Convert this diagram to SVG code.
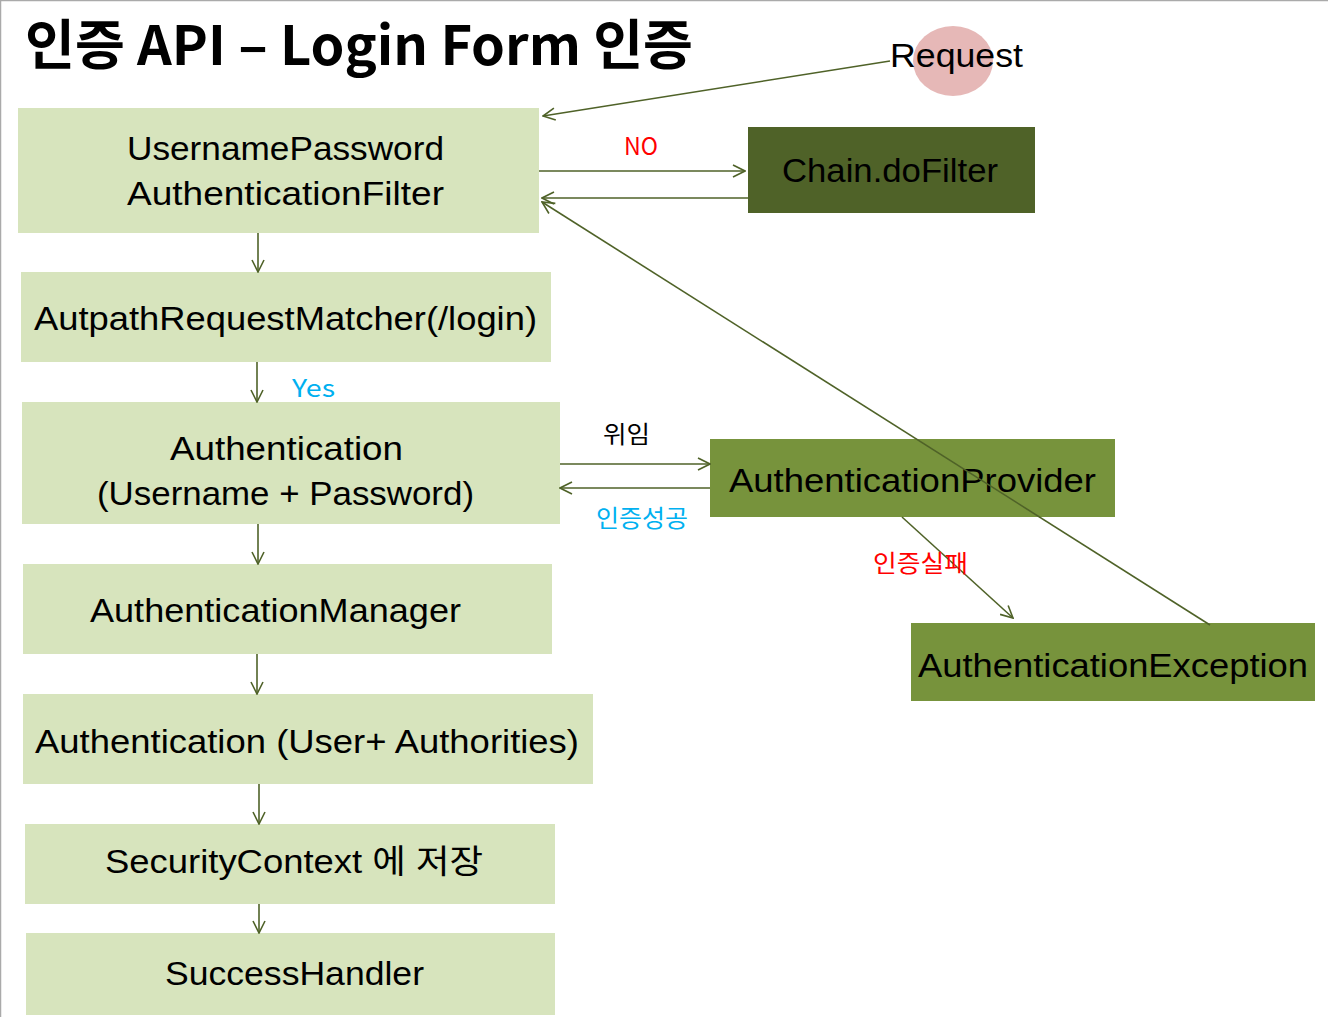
<svg xmlns="http://www.w3.org/2000/svg" width="1328" height="1017" viewBox="0 0 1328 1017">
<defs>
<style>
.t{font-family:"Liberation Sans","Noto Sans CJK KR",sans-serif;font-size:33px;fill:#000}
.s{font-family:"Noto Sans CJK KR","Liberation Sans",sans-serif;font-size:24px}
.light{fill:#d7e4bd}
.c{stroke:#4f6228;stroke-width:1.6;fill:none;marker-end:url(#a)}
</style>
<marker id="a" viewBox="0 0 14 14" refX="13" refY="7" markerWidth="14" markerHeight="14" markerUnits="userSpaceOnUse" orient="auto">
<path d="M1,1 L13,7 L1,13" fill="none" stroke="#4f6228" stroke-width="1.6"/>
</marker>
</defs>
<rect width="1328" height="1017" fill="#fff"/>
<line x1="0" y1="0.5" x2="1328" y2="0.5" stroke="#aaa" stroke-width="1.5"/>
<line x1="0.5" y1="0" x2="0.5" y2="1017" stroke="#aaa" stroke-width="1.5"/>
<text x="25" y="65" font-family="Noto Sans CJK KR, Liberation Sans, sans-serif" font-size="54" font-weight="bold" textLength="668" lengthAdjust="spacingAndGlyphs">인증 API – Login Form 인증</text>

<g id="request">
<ellipse cx="953" cy="61" rx="40" ry="35" fill="#e6b8b7"/>
<text class="t" x="890" y="67" textLength="133" lengthAdjust="spacingAndGlyphs">Request</text>
</g>
<g id="filter">
<rect class="light" x="18" y="108" width="521" height="125"/>
<text class="t" x="127" y="160" textLength="317" lengthAdjust="spacingAndGlyphs">UsernamePassword</text>
<text class="t" x="127" y="205" textLength="317" lengthAdjust="spacingAndGlyphs">AuthenticationFilter</text>
</g>
<g id="chain">
<rect x="748" y="127" width="287" height="86" fill="#4f6228"/>
<text class="t" x="782" y="182" textLength="216" lengthAdjust="spacingAndGlyphs">Chain.doFilter</text>
</g>
<g id="matcher">
<rect class="light" x="21" y="272" width="530" height="90"/>
<text class="t" x="34" y="330" textLength="503" lengthAdjust="spacingAndGlyphs">AutpathRequestMatcher(/login)</text>
</g>
<g id="auth1">
<rect class="light" x="22" y="402" width="538" height="122"/>
<text class="t" x="170" y="460" textLength="233" lengthAdjust="spacingAndGlyphs">Authentication</text>
<text class="t" x="97" y="505" textLength="377" lengthAdjust="spacingAndGlyphs">(Username + Password)</text>
</g>
<g id="provider">
<rect x="710" y="439" width="405" height="78" fill="#77933c"/>
<text class="t" x="729" y="492" textLength="367" lengthAdjust="spacingAndGlyphs">AuthenticationProvider</text>
</g>
<g id="manager">
<rect class="light" x="23" y="564" width="529" height="90"/>
<text class="t" x="90" y="622" textLength="371" lengthAdjust="spacingAndGlyphs">AuthenticationManager</text>
</g>
<g id="exception">
<rect x="911" y="623" width="404" height="78" fill="#77933c"/>
<text class="t" x="918" y="677" textLength="390" lengthAdjust="spacingAndGlyphs">AuthenticationException</text>
</g>
<g id="auth2">
<rect class="light" x="23" y="694" width="570" height="90"/>
<text class="t" x="35" y="753" textLength="544" lengthAdjust="spacingAndGlyphs">Authentication (User+ Authorities)</text>
</g>
<g id="context">
<rect class="light" x="25" y="824" width="530" height="80"/>
<text class="t" x="105" y="873" textLength="378" lengthAdjust="spacingAndGlyphs">SecurityContext 에 저장</text>
</g>
<g id="success">
<rect class="light" x="26" y="933" width="529" height="82"/>
<text class="t" x="165" y="985" textLength="259" lengthAdjust="spacingAndGlyphs">SuccessHandler</text>
</g>

<g id="connectors">
<line class="c" x1="890" y1="61" x2="543" y2="116"/>
<line class="c" x1="539" y1="171" x2="745" y2="171"/>
<line class="c" x1="748" y1="198" x2="542" y2="198"/>
<line class="c" x1="1210" y1="625" x2="542" y2="202"/>
<line class="c" x1="258" y1="233" x2="258" y2="272"/>
<line class="c" x1="257" y1="362" x2="257" y2="402"/>
<line class="c" x1="560" y1="464" x2="710" y2="464"/>
<line class="c" x1="710" y1="488" x2="560" y2="488"/>
<line class="c" x1="902" y1="517" x2="1013" y2="618"/>
<line class="c" x1="258" y1="524" x2="258" y2="564"/>
<line class="c" x1="257" y1="654" x2="257" y2="694"/>
<line class="c" x1="259" y1="784" x2="259" y2="824"/>
<line class="c" x1="259" y1="904" x2="259" y2="933"/>
<text class="s" x="624" y="155" fill="#ff0000" textLength="34" lengthAdjust="spacingAndGlyphs">NO</text>
<text class="s" x="292" y="397" fill="#00b0f0" textLength="43" lengthAdjust="spacingAndGlyphs">Yes</text>
<text class="s" x="603" y="443" fill="#000" textLength="47" lengthAdjust="spacingAndGlyphs">위임</text>
<text class="s" x="596" y="527" fill="#00b0f0" textLength="92" lengthAdjust="spacingAndGlyphs">인증성공</text>
<text class="s" x="873" y="572" fill="#ff0000" textLength="95" lengthAdjust="spacingAndGlyphs">인증실패</text>
</g>
</svg>
